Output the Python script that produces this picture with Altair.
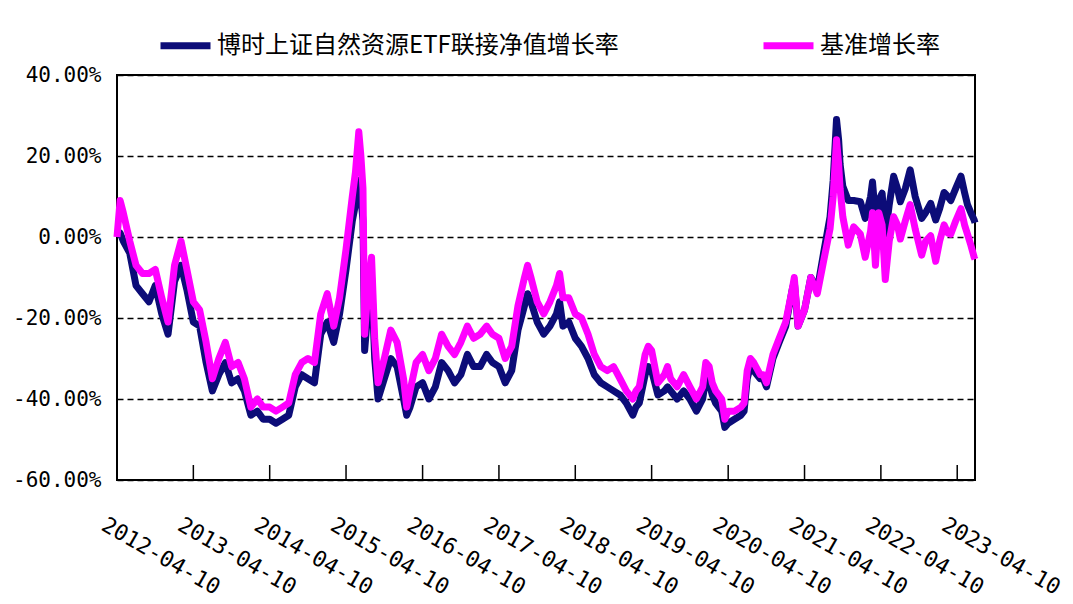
import altair as alt
import pandas as pd

S1 = "博时上证自然资源ETF联接净值增长率"
S2 = "基准增长率"

dates = [
    "2012-04-10", "2012-04-25", "2012-05-10", "2012-06-10", "2012-07-10", "2012-08-10", "2012-09-10",
    "2012-10-10", "2012-11-10", "2012-12-10", "2013-01-10", "2013-02-10", "2013-03-10", "2013-04-10",
    "2013-05-10", "2013-06-10", "2013-07-10", "2013-08-10", "2013-09-10", "2013-10-10", "2013-11-10",
    "2013-12-10", "2014-01-10", "2014-02-10", "2014-03-10", "2014-04-10", "2014-05-10", "2014-06-10",
    "2014-07-10", "2014-08-10", "2014-09-10", "2014-10-10", "2014-11-10", "2014-12-10", "2015-01-10",
    "2015-02-10", "2015-03-10", "2015-04-10", "2015-05-10", "2015-05-25", "2015-06-10", "2015-06-20",
    "2015-06-30", "2015-07-08", "2015-07-25", "2015-08-10", "2015-08-25", "2015-09-10", "2015-10-10",
    "2015-11-10", "2015-12-10", "2016-01-10", "2016-01-25", "2016-02-10", "2016-03-10", "2016-04-10",
    "2016-05-10", "2016-06-10", "2016-07-10", "2016-08-10", "2016-09-10", "2016-10-10", "2016-11-10",
    "2016-12-10", "2017-01-10", "2017-02-10", "2017-03-10", "2017-04-10", "2017-05-10", "2017-06-10",
    "2017-07-10", "2017-08-10", "2017-08-25", "2017-09-10", "2017-10-10", "2017-11-10", "2017-12-10",
    "2018-01-10", "2018-01-25", "2018-02-10", "2018-03-10", "2018-04-10", "2018-05-10", "2018-06-10",
    "2018-07-10", "2018-08-10", "2018-09-10", "2018-10-10", "2018-11-10", "2018-12-10", "2019-01-10",
    "2019-01-25", "2019-02-10", "2019-03-10", "2019-03-25", "2019-04-10", "2019-05-10", "2019-06-10",
    "2019-06-25", "2019-07-10", "2019-08-10", "2019-09-10", "2019-10-10", "2019-11-10", "2019-12-10",
    "2019-12-25", "2020-01-10", "2020-01-25", "2020-02-10", "2020-03-10", "2020-03-25", "2020-04-10",
    "2020-05-10", "2020-06-10", "2020-06-25", "2020-07-10", "2020-07-25", "2020-08-10", "2020-09-10",
    "2020-09-25", "2020-10-10", "2020-11-10", "2020-12-10", "2021-01-10", "2021-02-10", "2021-02-20",
    "2021-03-10", "2021-04-10", "2021-05-10", "2021-06-10", "2021-07-10", "2021-08-10", "2021-08-25",
    "2021-09-10", "2021-09-20", "2021-09-27", "2021-10-10", "2021-11-05", "2021-12-01", "2022-01-02",
    "2022-01-25", "2022-02-20", "2022-03-01", "2022-03-15", "2022-03-31", "2022-04-16", "2022-05-01",
    "2022-05-20", "2022-06-10", "2022-06-28", "2022-07-12", "2022-08-05", "2022-08-28", "2022-09-21",
    "2022-10-22", "2022-11-10", "2022-12-04", "2022-12-28", "2023-01-16", "2023-02-06", "2023-02-24",
    "2023-03-10", "2023-04-03", "2023-04-28", "2023-05-15", "2023-05-29", "2023-06-14", "2023-06-30",
    "2023-07-04",
]

benchmark = [
    0, 9, 6, -1, -7, -9, -9,
    -8, -15, -21, -7, -1, -8, -16,
    -18, -26, -35, -30, -26, -32, -31,
    -35, -42, -40, -42, -42, -43, -42,
    -41, -34, -31, -30, -31, -19, -14,
    -22, -15, -3, 10, 16, 26, 20,
    12, -24, -12, -5, -25, -36, -30,
    -23, -26, -35, -42, -38, -31, -29,
    -33, -30, -24, -27, -29, -26, -22,
    -25, -24, -22, -24, -25, -30, -27,
    -17, -10, -7, -10, -16, -19, -16,
    -12, -9, -15, -15, -19, -20, -24,
    -29, -32, -33, -32, -35, -38, -40,
    -38, -37, -29, -27, -28, -36, -34,
    -32, -35, -37, -34, -37, -40, -37,
    -31, -32, -36, -38, -40, -45, -43,
    -43, -42, -41, -33, -30, -31, -34,
    -34, -36, -29, -25, -21, -13, -10,
    -22, -18, -10, -14, -6, 2, 10,
    24, 18, 12, 5, -2, 2.5, 0.7,
    -5, 1.5, 6, -7, 6, 3, -10.5,
    -1, 5, 3, -0.5, 4, 8, 2,
    -4.5, -1, 0.3, -6, -1, 3, 1,
    0.7, 4, 7, 3, 0.7, -2, -5,
    -5.5,
]

fund = [
    0, 1, -1, -4, -12, -14, -16,
    -12, -19, -24, -11, -7, -13, -21,
    -22, -31, -38, -34, -31, -36, -35,
    -38, -44, -43, -45, -45, -46, -45,
    -44, -37, -34, -35, -36, -24, -21,
    -26, -19, -8, 4, 8, 14, 10,
    4, -28, -17, -10, -30, -40, -35,
    -30, -32, -40, -44, -42, -37, -36,
    -40, -37, -31, -33, -36, -34, -29,
    -32, -32, -29, -31, -32, -36, -33,
    -23, -17, -14, -16, -21, -24, -22,
    -19, -16, -22, -21, -25, -27, -30,
    -34, -36, -37, -38, -39, -41, -44,
    -42, -41, -34, -32, -33, -39, -38,
    -37, -38, -40, -38, -40, -43, -40,
    -35, -36, -39, -41, -43, -47, -46,
    -45, -44, -43, -35, -32, -33, -35,
    -35, -37, -30, -26, -22, -13, -11,
    -22, -18, -10, -13, -4, 5, 14,
    29, 24, 18, 12.5, 9, 9, 8.7,
    4.6, 10, 13.6, 5, 9, 10.8, 0,
    8, 15, 12, 8.7, 12, 16.6, 10,
    4.6, 6, 8.3, 4.2, 7, 11, 10,
    9, 12, 15, 11, 8, 6, 4.2,
    3.5,
]

tick_years = list(range(2012, 2024))
tick_dates = [f"{y}-04-10" for y in tick_years]
y_ticks = [-60, -40, -20, 0, 20, 40]

df = pd.concat([
    pd.DataFrame({"date": dates, "value": fund, "series": S1}),
    pd.DataFrame({"date": dates, "value": benchmark, "series": S2}),
])
ticks_df = pd.DataFrame({"date": tick_dates})

x_scale = alt.Scale(
    type="utc",
    domain=[alt.DateTime(year=2012, month=4, date=10, utc=True),
            alt.DateTime(year=2023, month=7, date=4, utc=True)],
)
y_scale = alt.Scale(domain=[-60, 40], nice=False)

x_axis = alt.Axis(
    values=[alt.DateTime(year=y, month=4, date=10, utc=True) for y in tick_years],
    format="%Y-%m-%d",
    labelAngle=30,
    labelAlign="left",
    labelBaseline="top",
    labelPadding=34,
    labelOffset=-9,
    labelOverlap=False,
    labelFlush=False,
    labelBound=False,
    tickSize=0,
    domain=False,
    grid=False,
    labelFont="DejaVu Sans Mono",
    labelFontSize=22,
    labelColor="black",
    title=None,
)
y_axis = alt.Axis(
    values=y_ticks,
    labelExpr="replace(format(datum.value, '.2f'), '\u2212', '-') + '%'",
    grid=True,
    gridDash=[6, 4],
    gridColor="black",
    gridWidth=1.5,
    gridOpacity=1,
    tickSize=0,
    domain=False,
    labelPadding=16,
    labelFont="DejaVu Sans Mono",
    labelFontSize=21,
    labelColor="black",
    title=None,
)

color = alt.Color(
    "series:N",
    scale=alt.Scale(domain=[S1, S2], range=["#0c0c78", "#ff00ff"]),
    legend=alt.Legend(
        orient="none",
        legendX=40,
        legendY=-58,
        direction="horizontal",
        title=None,
        symbolType="stroke",
        symbolSize=2500,
        symbolStrokeWidth=7,
        labelFontSize=24,
        labelFont="Noto Sans CJK SC",
        labelColor="black",
        labelLimit=700,
        columnPadding=130,
        labelOffset=3,
        padding=0,
    ),
)

base = alt.Chart(df)
line_fund = base.transform_filter(alt.datum.series == S1).mark_line(
    strokeWidth=7, strokeJoin="round"
).encode(
    x=alt.X("date:T", scale=x_scale, axis=x_axis),
    y=alt.Y("value:Q", scale=y_scale, axis=y_axis),
    color=color,
)
line_bench = base.transform_filter(alt.datum.series == S2).mark_line(
    strokeWidth=7, strokeJoin="round"
).encode(
    x=alt.X("date:T"),
    y=alt.Y("value:Q"),
    color=color,
)
ticks = alt.Chart(ticks_df).mark_rule(color="black", strokeWidth=1.5).encode(
    x=alt.X("date:T"),
    y=alt.datum(-60),
    y2=alt.datum(-56.3),
)

chart = alt.layer(line_fund, line_bench, ticks).properties(
    width=858,
    height=405,
    autosize=alt.AutoSizeParams(type="none"),
    padding={"left": 109, "top": 67, "right": 90, "bottom": 125},
    background="white",
).configure_view(stroke="black", strokeWidth=2)

chart.save("out.html", embed_options={"renderer": "svg", "actions": False})
